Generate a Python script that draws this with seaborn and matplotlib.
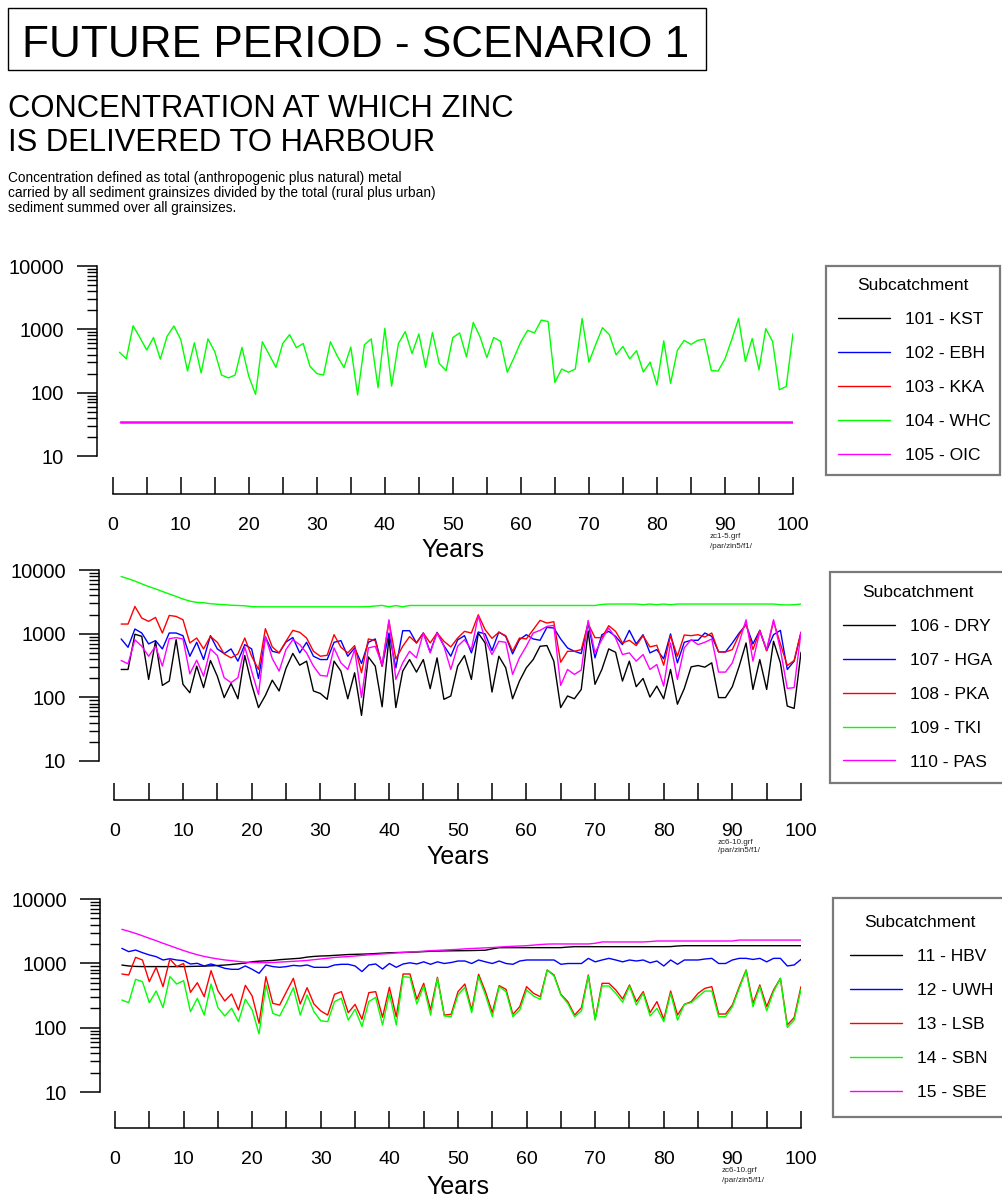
import numpy as np
import pandas as pd
import matplotlib
matplotlib.use('Agg')
import matplotlib.pyplot as plt
import seaborn as sns
from matplotlib import font_manager as fm
from matplotlib.ticker import FixedLocator, NullFormatter, LogLocator, FuncFormatter, MultipleLocator
from matplotlib.patches import Rectangle

sns.set_style('white')
plt.rcParams['font.family'] = ['Liberation Sans', 'DejaVu Sans']
plt.rcParams['text.color'] = 'black'
plt.rcParams['axes.labelcolor'] = 'black'
_names = {f.name for f in fm.fontManager.ttflist}
HAS_NARROW = 'Liberation Sans Narrow' in _names
NARROW = ['Liberation Sans Narrow', 'Liberation Sans', 'DejaVu Sans'] if HAS_NARROW else ['Liberation Sans', 'DejaVu Sans']
NS = 1.0 if HAS_NARROW else 0.82

# ---------------- data ----------------
YEARS = list(range(1, 101))

P1_NAMES = ['101 - KST', '102 - EBH', '103 - KKA', '104 - WHC', '105 - OIC']
KST = [35] * 100
EBH = [35] * 100
KKA = [35] * 100
WHC = [434, 342, 1140, 742, 471, 742, 338, 778, 1130, 691,
       220, 613, 205, 707, 444, 190, 171, 190, 519, 182,
       94, 636, 399, 251, 598, 826, 513, 598, 260, 200,
       190, 636, 380, 248, 525, 92, 571, 707, 120, 1036,
       127, 598, 920, 414, 846, 251, 888, 289, 222, 742,
       877, 367, 1285, 760, 358, 742, 650, 210, 358, 636,
       965, 877, 1397, 1331, 145, 236, 210, 236, 1483, 303,
       578, 1061, 826, 395, 538, 342, 460, 212, 303, 132,
       659, 140, 466, 670, 578, 670, 699, 222, 220, 342,
       691, 1483, 310, 716, 230, 1024, 643, 111, 125, 857]
OIC = [35] * 100

P2_NAMES = ['106 - DRY', '107 - HGA', '108 - PKA', '109 - TKI', '110 - PAS']
DRY = [274, 274, 980, 908, 191, 759, 154, 180, 805, 160,
       118, 309, 142, 379, 215, 99, 165, 95, 453, 160,
       69, 107, 186, 126, 285, 490, 320, 370, 126, 115,
       93, 370, 258, 95, 243, 52, 431, 309, 71, 880,
       69, 258, 392, 249, 392, 137, 417, 93, 105, 309,
       453, 191, 1024, 715, 121, 442, 291, 95, 180, 291,
       392, 634, 650, 370, 69, 105, 95, 133, 1100, 160,
       274, 576, 510, 180, 370, 147, 198, 101, 150, 95,
       274, 78, 137, 301, 316, 298, 348, 99, 99, 147,
       309, 715, 133, 392, 133, 759, 348, 73, 67, 510]
HGA = [826, 611, 1183, 1024, 690, 778, 576, 1024, 1024, 930,
       442, 732, 392, 930, 576, 487, 576, 370, 673, 576,
       198, 887, 529, 499, 740, 870, 499, 732, 442, 392,
       392, 732, 778, 442, 597, 340, 732, 826, 309, 1024,
       290, 1113, 1113, 715, 1024, 517, 1050, 650, 442, 800,
       930, 499, 1062, 992, 542, 1062, 908, 481, 805, 964,
       826, 787, 1255, 1227, 826, 597, 529, 487, 1468, 417,
       964, 1087, 908, 673, 1127, 690, 964, 499, 562, 402,
       992, 348, 732, 787, 787, 1024, 908, 517, 517, 715,
       1024, 1383, 690, 1127, 542, 964, 1127, 274, 370, 1050]
PKA = [1416, 1416, 2674, 1757, 1560, 1800, 1024, 1933, 1866, 1655,
       715, 855, 576, 908, 732, 481, 417, 481, 855, 442,
       274, 1197, 619, 499, 760, 1127, 1050, 855, 529, 442,
       458, 964, 611, 499, 650, 243, 826, 778, 309, 1560,
       400, 634, 900, 715, 1024, 715, 1024, 760, 619, 855,
       1087, 1024, 1981, 1155, 845, 1050, 930, 529, 855, 826,
       1155, 1616, 1468, 1540, 356, 529, 529, 562, 1433, 866,
       866, 1334, 1087, 715, 787, 650, 930, 619, 657, 320,
       930, 442, 953, 930, 964, 887, 1024, 517, 517, 562,
       964, 1433, 562, 1127, 542, 1560, 690, 316, 378, 1050]
TKI = [7900, 7300, 6700, 6050, 5500, 5050, 4600, 4200, 3850, 3500,
       3250, 3100, 3060, 2950, 2900, 2850, 2800, 2770, 2740, 2660,
       2640, 2640, 2640, 2640, 2640, 2640, 2640, 2640, 2640, 2640,
       2640, 2640, 2640, 2640, 2640, 2640, 2660, 2720, 2780, 2640,
       2760, 2640, 2770, 2770, 2770, 2770, 2770, 2770, 2770, 2770,
       2770, 2770, 2770, 2770, 2770, 2770, 2770, 2770, 2770, 2770,
       2770, 2770, 2770, 2770, 2770, 2770, 2770, 2770, 2770, 2770,
       2880, 2920, 2920, 2920, 2920, 2920, 2850, 2920, 2850, 2920,
       2850, 2920, 2920, 2920, 2920, 2920, 2920, 2920, 2920, 2920,
       2920, 2920, 2920, 2920, 2920, 2920, 2850, 2820, 2850, 2920]
PAS = [379, 336, 800, 634, 442, 634, 309, 835, 866, 826,
       234, 383, 215, 576, 453, 203, 170, 203, 619, 258,
       111, 908, 407, 258, 562, 805, 673, 499, 309, 221,
       215, 597, 348, 274, 562, 99, 597, 634, 328, 1650,
       191, 348, 529, 417, 1024, 499, 1024, 634, 274, 634,
       805, 562, 1911, 805, 470, 759, 732, 229, 417, 634,
       1024, 1127, 1300, 1350, 154, 274, 229, 268, 1616, 499,
       805, 1227, 855, 470, 499, 370, 470, 274, 328, 150,
       715, 191, 597, 805, 673, 732, 826, 249, 249, 348,
       732, 1655, 370, 1087, 562, 1655, 562, 138, 142, 1050]

P3_NAMES = ['11 - HBV', '12 - UWH', '13 - LSB', '14 - SBN', '15 - SBE']
HBV = [940, 910, 895, 890, 890, 890, 890, 890, 890, 890,
       895, 900, 905, 915, 925, 940, 960, 985, 1010, 1060,
       1080, 1095, 1110, 1140, 1160, 1180, 1200, 1250, 1280, 1300,
       1310, 1330, 1350, 1370, 1380, 1390, 1400, 1420, 1440, 1460,
       1470, 1480, 1490, 1500, 1520, 1540, 1550, 1560, 1565, 1570,
       1575, 1580, 1590, 1600, 1680, 1750, 1752, 1752, 1753, 1753,
       1753, 1753, 1753, 1753, 1755, 1790, 1815, 1815, 1815, 1815,
       1815, 1815, 1815, 1815, 1815, 1815, 1815, 1815, 1815, 1815,
       1820, 1860, 1880, 1880, 1880, 1880, 1880, 1880, 1880, 1880,
       1880, 1880, 1880, 1880, 1880, 1880, 1880, 1880, 1880, 1880]
UWH = [1710, 1520, 1610, 1465, 1350, 1270, 1127, 1180, 1127, 1100,
       977, 1000, 910, 977, 910, 836, 807, 807, 910, 807,
       700, 943, 890, 867, 890, 930, 910, 943, 867, 867,
       867, 943, 966, 966, 910, 745, 943, 977, 815, 994,
       867, 977, 1020, 977, 1055, 966, 1055, 994, 1030, 1087,
       1087, 994, 1127, 1055, 994, 1087, 994, 966, 1087, 1127,
       1127, 1127, 1127, 1127, 966, 994, 994, 994, 1195, 1055,
       1127, 1195, 1127, 1055, 1127, 1087, 1127, 1020, 1087, 910,
       1127, 966, 1127, 1127, 1127, 1167, 1195, 994, 994, 1127,
       1195, 1195, 1150, 1195, 1055, 1195, 1195, 910, 943, 1150]
LSB = [683, 659, 1239, 1127, 519, 867, 434, 1167, 890, 994,
       354, 500, 303, 769, 376, 260, 334, 188, 455, 310,
       117, 621, 239, 225, 363, 584, 233, 418, 233, 182,
       157, 330, 363, 171, 230, 135, 350, 363, 145, 424,
       148, 683, 683, 276, 489, 188, 606, 157, 161, 363,
       477, 188, 676, 363, 171, 450, 394, 161, 212, 434,
       342, 303, 787, 659, 330, 254, 157, 205, 659, 135,
       489, 489, 385, 279, 461, 254, 363, 171, 254, 135,
       371, 157, 230, 254, 342, 409, 434, 163, 163, 225,
       434, 787, 239, 461, 212, 385, 584, 110, 143, 434]
SBN = [269, 245, 564, 519, 245, 371, 205, 621, 477, 538,
       177, 286, 157, 477, 205, 152, 200, 124, 276, 188,
       80, 461, 167, 152, 245, 418, 157, 322, 177, 128,
       124, 254, 286, 131, 193, 104, 254, 296, 110, 342,
       110, 621, 606, 233, 444, 157, 584, 152, 148, 322,
       424, 171, 621, 322, 148, 434, 363, 148, 188, 385,
       311, 276, 787, 636, 322, 239, 148, 182, 636, 131,
       444, 444, 342, 248, 444, 225, 342, 152, 200, 124,
       342, 131, 230, 245, 303, 371, 371, 148, 148, 212,
       409, 769, 212, 434, 182, 363, 584, 101, 131, 394]
SBE = [3380, 3150, 2920, 2680, 2450, 2250, 2050, 1880, 1720, 1580,
       1460, 1360, 1280, 1220, 1170, 1130, 1100, 1070, 1045, 1030,
       1025, 1025, 1030, 1045, 1060, 1075, 1090, 1110, 1140, 1170,
       1200, 1235, 1255, 1275, 1300, 1330, 1355, 1380, 1400, 1420,
       1450, 1475, 1500, 1520, 1545, 1570, 1590, 1610, 1630, 1650,
       1680, 1700, 1720, 1740, 1760, 1790, 1820, 1840, 1860, 1880,
       1920, 1960, 1990, 2000, 2000, 2000, 2000, 2000, 2000, 2050,
       2150, 2150, 2150, 2150, 2150, 2150, 2150, 2180, 2225, 2225,
       2225, 2225, 2225, 2225, 2225, 2225, 2225, 2225, 2225, 2225,
       2300, 2300, 2300, 2300, 2300, 2300, 2300, 2300, 2300, 2300]

COLORS = ['#000000', '#0000ff', '#ff0000', '#00ff00', '#ff00ff']

PANELS = [
    dict(names=P1_NAMES, series=[KST, EBH, KKA, WHC, OIC], grf='zc1-5.grf'),
    dict(names=P2_NAMES, series=[DRY, HGA, PKA, TKI, PAS], grf='zc6-10.grf'),
    dict(names=P3_NAMES, series=[HBV, UWH, LSB, SBN, SBE], grf='zc6-10.grf'),
]

# ---------------- layout (pixels) ----------------
W, H = 1003, 1198
LAYOUT = [
    dict(ax=(97, 266, 793, 456), x0=112.7, xspine=494, years_top=538,
         leg=(826, 266, 1000, 472), legpad=0.7, grf_xy=(710, 537)),
    dict(ax=(99, 570, 801, 761), x0=114.3, xspine=800, years_top=845,
         leg=(830, 572, 1006, 780), legpad=0.75, grf_xy=(718, 842)),
    dict(ax=(100, 899, 801, 1092), x0=115.0, xspine=1128, years_top=1175,
         leg=(833, 898, 1006, 1112), legpad=1.0, grf_xy=(722, 1171)),
]

fig = plt.figure(figsize=(W / 100, H / 100), dpi=100)


def frect(x0, y0, x1, y1):
    return [x0 / W, 1 - y1 / H, (x1 - x0) / W, (y1 - y0) / H]


PX2PT = 0.72

for panel, lay in zip(PANELS, LAYOUT):
    ax0, ay0, ax1, ay1 = lay['ax']
    ax = fig.add_axes(frect(*lay['ax']))
    df = pd.concat([pd.DataFrame({'Year': YEARS, 'Value': vals, 'Subcatchment': nm})
                    for nm, vals in zip(panel['names'], panel['series'])], ignore_index=True)
    sns.lineplot(data=df, x='Year', y='Value', hue='Subcatchment', hue_order=panel['names'],
                 palette=dict(zip(panel['names'], COLORS)), linewidth=1.0, estimator=None,
                 ax=ax, legend=True)
    ppy = (ax1 - lay['x0']) / 100.0
    ax.set_xlim(-(lay['x0'] - ax0) / ppy, 100)
    ax.set_yscale('log')
    ax.set_ylim(10, 10000)

    for s in ('top', 'right'):
        ax.spines[s].set_visible(False)
    ax.spines['left'].set_color('black')
    ax.spines['left'].set_linewidth(1.1)
    ax.spines['bottom'].set_color('black')
    ax.spines['bottom'].set_linewidth(1.1)
    ax.spines['bottom'].set_position(('outward', (lay['xspine'] - ay1) * PX2PT))
    ax.spines['bottom'].set_bounds(0, 100)

    ax.yaxis.set_major_locator(FixedLocator([10, 100, 1000, 10000]))
    ax.yaxis.set_major_formatter(FuncFormatter(lambda v, p: f'{int(round(v))}'))
    ax.yaxis.set_minor_locator(LogLocator(base=10, subs=np.arange(2, 10)))
    ax.yaxis.set_minor_formatter(NullFormatter())
    ax.xaxis.set_major_locator(MultipleLocator(10))
    ax.xaxis.set_minor_locator(MultipleLocator(5))

    ax.tick_params(axis='y', which='major', left=True, direction='out', length=20 * PX2PT,
                   width=1.1, color='black', pad=9.5, labelsize=14.5, labelcolor='black')
    ax.tick_params(axis='y', which='minor', left=True, direction='out', length=10 * PX2PT,
                   width=1.0, color='black')
    ax.tick_params(axis='x', which='both', bottom=True, direction='in', length=17 * PX2PT,
                   width=1.1, color='black')
    ax.tick_params(axis='x', which='major', pad=16.4, labelsize=14, labelcolor='black')

    ax.set_ylabel('')
    ax.set_xlabel('Years', fontsize=18, color='black')
    xc = ((lay['x0'] + ax1) / 2 - ax0) / (ax1 - ax0)
    ax.xaxis.set_label_coords(xc, -(lay['years_top'] - ay1) / (ay1 - ay0))
    ax.xaxis.label.set_va('top')

    handles, labels = ax.get_legend_handles_labels()
    lx0, ly0, lx1, ly1 = lay['leg']
    leg = ax.legend(handles, labels, title='Subcatchment', loc='upper left',
                    bbox_to_anchor=(lx0 / W, 1 - ly1 / H, (lx1 - lx0) / W, (ly1 - ly0) / H),
                    bbox_transform=fig.transFigure, mode='expand', borderaxespad=0,
                    fontsize=12.5, title_fontsize=12.5, handlelength=3.0, handletextpad=0.85,
                    labelspacing=1.08, borderpad=lay['legpad'], fancybox=False, framealpha=1)
    leg.get_frame().set_edgecolor('#7a7a7a')
    leg.get_frame().set_linewidth(1.6)
    leg.get_title().set_color('black')
    for t in leg.get_texts():
        t.set_color('black')

    gx, gy = lay['grf_xy']
    fig.text(gx / W, 1 - gy / H, panel['grf'], fontsize=5.8, family=NARROW, va='center', ha='left',
             color='#222222')
    fig.text(gx / W, 1 - (gy + 9) / H, '/par/zin5/f1/', fontsize=5.8, family=NARROW, va='center',
             ha='left', color='#222222')

# ---------------- titles ----------------
fig.patches.append(Rectangle((8 / W, 1 - 70 / H), (706 - 8) / W, (70 - 8) / H,
                             transform=fig.transFigure, fill=False, edgecolor='black', linewidth=1.0))
fig.text(22 / W, 1 - 57 / H, 'FUTURE PERIOD - SCENARIO 1', fontsize=38.8 * NS, family=NARROW,
         va='baseline', ha='left')
fig.text(8 / W, 1 - 117 / H, 'CONCENTRATION AT WHICH ZINC', fontsize=27.2 * NS, family=NARROW,
         va='baseline', ha='left')
fig.text(8 / W, 1 - 151 / H, 'IS DELIVERED TO HARBOUR', fontsize=27.2 * NS, family=NARROW,
         va='baseline', ha='left')
desc = ['Concentration defined as total (anthropogenic plus natural) metal',
        'carried by all sediment grainsizes divided by the total (rural plus urban)',
        'sediment summed over all grainsizes.']
for i, line in enumerate(desc):
    fig.text(8 / W, 1 - (182 + 15 * i) / H, line, fontsize=12.0 * NS, family=NARROW,
             va='baseline', ha='left')

fig.savefig('out.png', dpi=100)
